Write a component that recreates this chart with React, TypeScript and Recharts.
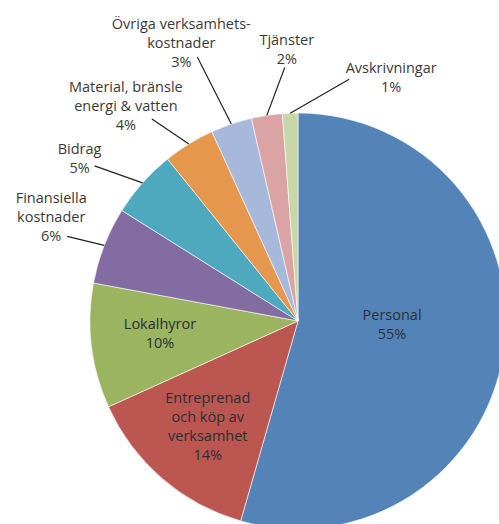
import { PieChart, Pie, Cell } from "recharts";

// kostnadsfördelning, andel i procent
const names = [
  "Personal",
  "Entreprenad och köp av verksamhet",
  "Lokalhyror",
  "Finansiella kostnader",
  "Bidrag",
  "Material, bränsle energi & vatten",
  "Övriga verksamhetskostnader",
  "Tjänster",
  "Avskrivningar",
];
const values = [54.5, 13.8, 9.7, 6.0, 5.3, 4.0, 3.2, 2.4, 1.2];
// label lines as printed in the chart
const labelLines = [
  ["Personal"],
  ["Entreprenad", "och köp av", "verksamhet"],
  ["Lokalhyror"],
  ["Finansiella", "kostnader"],
  ["Bidrag"],
  ["Material, bränsle", "energi & vatten"],
  ["Övriga verksamhets-", "kostnader"],
  ["Tjänster"],
  ["Avskrivningar"],
];

const colors = ["#5484b7", "#bb5750", "#9bb45f", "#826ca1", "#4ea8be", "#e5974e", "#a6b9da", "#dba4a4", "#c7d7a7"];

// label placement: inside => radius + nudge, outside => leader end + text centre (relative to slice edge)
const layout: any[] = [
  { inside: true, r: 95, dx: 0, dy: -11 },
  { inside: true, r: 138, dx: 0, dy: 0 },
  { inside: true, r: 139, dx: 0, dy: -5 },
  { line: [-37, -9], text: [-53, -29] },
  { line: [-48, -17], text: [-63, -25] },
  { line: [-37, -25], text: [-63, -39] },
  { line: [-34, -67], text: [-50, -82] },
  { line: [18, -48], text: [20, -67] },
  { line: [59, -34], text: [101, -37] },
];

const data = names.map((name, i) => ({ name, value: values[i] }));

const RAD = Math.PI / 180;
const FONT = "'Open Sans', sans-serif";
const LH = 19;

function TextBlock({ x, y, lines, fill }: { x: number; y: number; lines: string[]; fill: string }) {
  const n = lines.length;
  return (
    <text textAnchor="middle" fontFamily={FONT} fontSize={14.5} fill={fill} dominantBaseline="central">
      {lines.map((l, i) => (
        <tspan key={i} x={x} y={y + (i - (n - 1) / 2) * LH}>{l}</tspan>
      ))}
    </text>
  );
}

const renderLabel = (p: any) => {
  const { cx, cy, midAngle, outerRadius, index, value } = p;
  const lay = layout[index];
  const lines = [...labelLines[index], `${Math.round(value)}%`];
  const cos = Math.cos(-midAngle * RAD);
  const sin = Math.sin(-midAngle * RAD);
  if (lay.inside) {
    const x = cx + lay.r * cos + lay.dx;
    const y = cy + lay.r * sin + lay.dy;
    return <TextBlock x={x} y={y} lines={lines} fill="#2b2f38" />;
  }
  const ex = cx + outerRadius * cos;
  const ey = cy + outerRadius * sin;
  return (
    <g>
      <line x1={ex} y1={ey} x2={ex + lay.line[0]} y2={ey + lay.line[1]} stroke="#222" strokeWidth={1.2} />
      <TextBlock x={ex + lay.text[0]} y={ey + lay.text[1]} lines={lines} fill="#3a3a3a" />
    </g>
  );
};

export default function App() {
  return (
    <div style={{ position: "absolute", left: 0, top: 0, width: 499, height: 524, background: "#fff" }}>
      <PieChart width={499} height={524} margin={{ top: 0, right: 0, bottom: 0, left: 0 }}>
        <Pie
          data={data}
          dataKey="value"
          nameKey="name"
          cx={298}
          cy={321}
          outerRadius={208}
          startAngle={90}
          endAngle={-270}
          stroke="#ffffff"
          strokeWidth={0.6}
          label={renderLabel}
          labelLine={false}
          isAnimationActive={false}
        >
          {data.map((d, i) => (
            <Cell key={d.name} fill={colors[i]} />
          ))}
        </Pie>
      </PieChart>
    </div>
  );
}
